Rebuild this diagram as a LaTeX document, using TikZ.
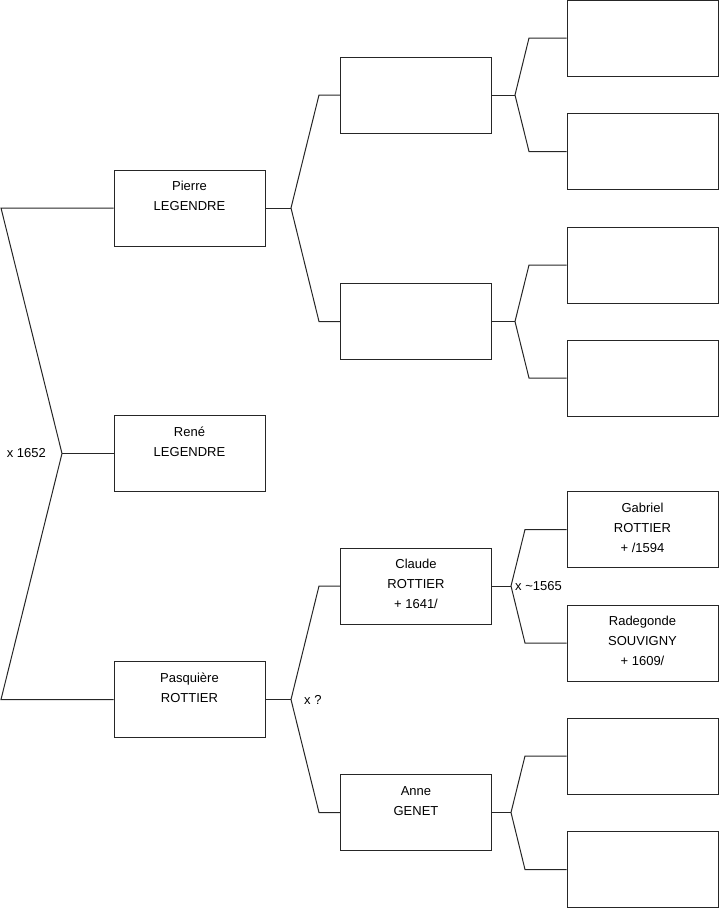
\documentclass[tikz,border=0pt]{standalone}
\usepackage{fontspec}
\setmainfont{Liberation Sans}
\begin{document}
\begin{tikzpicture}[x=1pt,y=-1pt,
  pbox/.style={draw=black!85,line width=1pt,minimum width=151pt,minimum height=76pt,inner sep=0pt,fill=white},
  ptext/.style={anchor=base,inner sep=0pt,font=\fontsize{13}{20}\selectfont},
  lnk/.style={draw=black!85,line width=1pt},
  mlab/.style={inner sep=0pt,font=\fontsize{13}{16}\selectfont}]
\useasboundingbox (0,0) rectangle (719,908);
\newcommand{\ptxt}[2]{\begin{tabular}[t]{@{}c@{}}#1\end{tabular}}
% generation 1
\node[pbox] (pierre) at (189.5,208) {};
\node[pbox] (rene) at (189.5,453.5) {};
\node[pbox] (pasq) at (189.5,699.5) {};
% generation 2
\node[pbox] (g2a) at (416,95) {};
\node[pbox] (g2b) at (416,321.5) {};
\node[pbox] (claude) at (416,586) {};
\node[pbox] (anne) at (416,812.5) {};
% generation 3
\node[pbox] (g3a) at (642.5,38) {};
\node[pbox] (g3b) at (642.5,151.5) {};
\node[pbox] (g3c) at (642.5,265) {};
\node[pbox] (g3d) at (642.5,378) {};
\node[pbox] (gabriel) at (642.5,529.5) {};
\node[pbox] (radegonde) at (642.5,643) {};
\node[pbox] (g3g) at (642.5,756) {};
\node[pbox] (g3h) at (642.5,869.5) {};
% texts
\node[ptext] (tpierre) at ([yshift=-21pt]pierre.north) {\ptxt{Pierre\\LEGENDRE}{}};
\node[ptext] (trene) at ([yshift=-21pt]rene.north) {\ptxt{René\\LEGENDRE}{}};
\node[ptext] (tpasq) at ([yshift=-21pt]pasq.north) {\ptxt{Pasquière\\ROTTIER}{}};
\node[ptext] (tclaude) at ([yshift=-21pt]claude.north) {\ptxt{Claude\\ROTTIER\\+ 1641/}{}};
\node[ptext] (tanne) at ([yshift=-21pt]anne.north) {\ptxt{Anne\\GENET}{}};
\node[ptext] (tgabriel) at ([yshift=-21pt]gabriel.north) {\ptxt{Gabriel\\ROTTIER\\+ /1594}{}};
\node[ptext] (tradegonde) at ([yshift=-21pt]radegonde.north) {\ptxt{Radegonde\\SOUVIGNY\\+ 1609/}{}};
% fork points
\coordinate (f1) at (62,453.5);
\coordinate (f1a) at (1,208);
\coordinate (f1b) at (1,699.5);
\coordinate (f2) at (291,208);
\coordinate (f2a) at (319,95);
\coordinate (f2b) at (319,321.5);
\coordinate (f3) at (291,699.5);
\coordinate (f3a) at (319,586);
\coordinate (f3b) at (319,812.5);
\coordinate (f4) at (515,95);
\coordinate (f4a) at (529,38);
\coordinate (f4b) at (529,151.5);
\coordinate (f5) at (515,321.5);
\coordinate (f5a) at (529,265);
\coordinate (f5b) at (529,378);
\coordinate (f6) at (511,586);
\coordinate (f6a) at (525,529.5);
\coordinate (f6b) at (525,643);
\coordinate (f7) at (511,812.5);
\coordinate (f7a) at (525,756);
\coordinate (f7b) at (525,869.5);
% connectors
\draw[lnk] (rene.west) -- (f1);
\draw[lnk] (pierre.west) -- (f1a) -- (f1) -- (f1b) -- (pasq.west);
\draw[lnk] (pierre.east) -- (f2);
\draw[lnk] (g2a.west) -- (f2a) -- (f2) -- (f2b) -- (g2b.west);
\draw[lnk] (pasq.east) -- (f3);
\draw[lnk] (claude.west) -- (f3a) -- (f3) -- (f3b) -- (anne.west);
\draw[lnk] (g2a.east) -- (f4);
\draw[lnk] (g3a.west) -- (f4a) -- (f4) -- (f4b) -- (g3b.west);
\draw[lnk] (g2b.east) -- (f5);
\draw[lnk] (g3c.west) -- (f5a) -- (f5) -- (f5b) -- (g3d.west);
\draw[lnk] (claude.east) -- (f6);
\draw[lnk] (gabriel.west) -- (f6a) -- (f6) -- (f6b) -- (radegonde.west);
\draw[lnk] (anne.east) -- (f7);
\draw[lnk] (g3g.west) -- (f7a) -- (f7) -- (f7b) -- (g3h.west);
% marriage labels
\node[mlab,anchor=east] (m1) at ([xshift=-16pt]f1) {x 1652};
\node[mlab,anchor=west] (m2) at ([xshift=13pt]f3) {x ?};
\node[mlab,anchor=west] (m3) at ([xshift=4pt]f6) {x \textasciitilde1565};
\end{tikzpicture}
\end{document}
